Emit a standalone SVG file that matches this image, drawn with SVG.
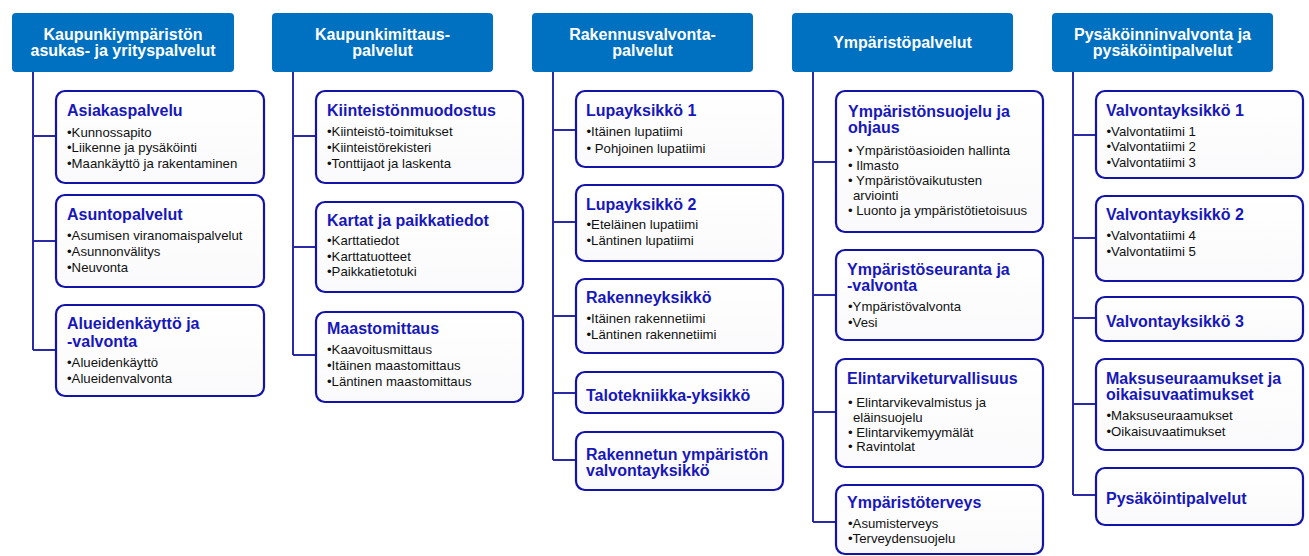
<svg xmlns="http://www.w3.org/2000/svg" width="1309" height="556" viewBox="0 0 1309 556">
<defs>
<linearGradient id="bf" x1="0" y1="0" x2="0" y2="1"><stop offset="0" stop-color="#ffffff"/><stop offset="1" stop-color="#fafafc"/></linearGradient>
<style>
.hd{fill:#0070c0}
.ht{font-family:"Liberation Sans",Arial,sans-serif;font-size:16px;font-weight:bold;fill:#ffffff;text-anchor:middle}
.bx{fill:url(#bf);stroke:#1313a8;stroke-width:2.2}
.tt{font-family:"Liberation Sans",Arial,sans-serif;font-size:16px;font-weight:bold;fill:#1717bb}
.bt{font-family:"Liberation Sans",Arial,sans-serif;font-size:13.2px;fill:#111111}
.cn{fill:none;stroke:#2a2aa6;stroke-width:2}
</style>
</defs>
<rect width="1309" height="556" fill="#ffffff"/>
<g id="connectors">
<path class="cn" d="M33 72V350M33 136H56M33 241H56M33 350H56"/>
<path class="cn" d="M293 72V355M293 136H316M293 247H316M293 355H316"/>
<path class="cn" d="M553 72V460M553 130H576M553 222H576M553 316H576M553 393H576M553 460H576"/>
<path class="cn" d="M813 72V522M813 162H836M813 295H836M813 412H836M813 522H836"/>
<path class="cn" d="M1073 72V495M1073 135H1096M1073 238H1096M1073 318H1096M1073 404H1096M1073 495H1096"/>
</g>
<g id="h1"><rect class="hd" x="12" y="13" width="222" height="59" rx="4"/><text class="ht" x="123" y="39.5">Kaupunkiympäristön</text><text class="ht" x="123" y="56">asukas- ja yrityspalvelut</text></g>
<g id="h2"><rect class="hd" x="272" y="13" width="221" height="59" rx="4"/><text class="ht" x="382.5" y="39.5">Kaupunkimittaus-</text><text class="ht" x="382.5" y="56">palvelut</text></g>
<g id="h3"><rect class="hd" x="532" y="13" width="221" height="59" rx="4"/><text class="ht" x="642.5" y="39.5">Rakennusvalvonta-</text><text class="ht" x="642.5" y="56">palvelut</text></g>
<g id="h4"><rect class="hd" x="792" y="13" width="221" height="59" rx="4"/><text class="ht" x="902.5" y="48">Ympäristöpalvelut</text></g>
<g id="h5"><rect class="hd" x="1052" y="13" width="221" height="59" rx="4"/><text class="ht" x="1162.5" y="39.5">Pysäköinninvalvonta ja</text><text class="ht" x="1162.5" y="56">pysäköintipalvelut</text></g>

<g id="c1b1"><rect class="bx" x="56" y="91" width="208" height="92" rx="9"/><text class="tt" x="67" y="116">Asiakaspalvelu</text><text class="bt" x="67" y="136.5">•Kunnossapito</text><text class="bt" x="67" y="152">•Liikenne ja pysäköinti</text><text class="bt" x="67" y="167.5">•Maankäyttö  ja rakentaminen</text></g>
<g id="c1b2"><rect class="bx" x="56" y="195" width="208" height="92" rx="9"/><text class="tt" x="67" y="220">Asuntopalvelut</text><text class="bt" x="67" y="240">•Asumisen viranomaispalvelut</text><text class="bt" x="67" y="256">•Asunnonvälitys</text><text class="bt" x="67" y="272">•Neuvonta</text></g>
<g id="c1b3"><rect class="bx" x="56" y="305" width="208" height="91" rx="9"/><text class="tt" x="67" y="329">Alueidenkäyttö ja</text><text class="tt" x="67" y="346.5">-valvonta</text><text class="bt" x="67" y="366.5">•Alueidenkäyttö</text><text class="bt" x="67" y="382.5">•Alueidenvalvonta</text></g>

<g id="c2b1"><rect class="bx" x="316" y="91" width="207" height="92" rx="9"/><text class="tt" x="327" y="116">Kiinteistönmuodostus</text><text class="bt" x="327" y="136">•Kiinteistö-toimitukset</text><text class="bt" x="327" y="152">•Kiinteistörekisteri</text><text class="bt" x="327" y="167.5">•Tonttijaot ja laskenta</text></g>
<g id="c2b2"><rect class="bx" x="316" y="202" width="207" height="90" rx="9"/><text class="tt" x="327" y="225.5">Kartat ja paikkatiedot</text><text class="bt" x="327" y="245">•Karttatiedot</text><text class="bt" x="327" y="260.5">•Karttatuotteet</text><text class="bt" x="327" y="276">•Paikkatietotuki</text></g>
<g id="c2b3"><rect class="bx" x="316" y="312" width="207" height="90" rx="9"/><text class="tt" x="327" y="334">Maastomittaus</text><text class="bt" x="327" y="353.5">•Kaavoitusmittaus</text><text class="bt" x="327" y="370">•Itäinen maastomittaus</text><text class="bt" x="327" y="386">•Läntinen maastomittaus</text></g>

<g id="c3b1"><rect class="bx" x="576" y="91" width="207" height="76" rx="9"/><text class="tt" x="586" y="116">Lupayksikkö 1</text><text class="bt" x="586.5" y="136">•Itäinen lupatiimi</text><text class="bt" x="586.5" y="152.5">• Pohjoinen lupatiimi</text></g>
<g id="c3b2"><rect class="bx" x="576" y="185" width="207" height="76" rx="9"/><text class="tt" x="586" y="209.5">Lupayksikkö 2</text><text class="bt" x="586.5" y="229">•Eteläinen lupatiimi</text><text class="bt" x="586.5" y="244.5">•Läntinen lupatiimi</text></g>
<g id="c3b3"><rect class="bx" x="576" y="279" width="207" height="74" rx="9"/><text class="tt" x="586" y="302.5">Rakenneyksikkö</text><text class="bt" x="586.5" y="322.5">•Itäinen rakennetiimi</text><text class="bt" x="586.5" y="338.5">•Läntinen rakennetiimi</text></g>
<g id="c3b4"><rect class="bx" x="576" y="372" width="207" height="41" rx="9"/><text class="tt" x="586" y="400.5">Talotekniikka-yksikkö</text></g>
<g id="c3b5"><rect class="bx" x="576" y="432" width="207" height="58" rx="9"/><text class="tt" x="586" y="459.5">Rakennetun ympäristön</text><text class="tt" x="586" y="475.5">valvontayksikkö</text></g>

<g id="c4b1"><rect class="bx" x="836" y="91" width="207" height="141" rx="9"/><text class="tt" x="848" y="117">Ympäristönsuojelu ja</text><text class="tt" x="848" y="133">ohjaus</text><text class="bt" x="848" y="155">• Ympäristöasioiden hallinta</text><text class="bt" x="848" y="170">• Ilmasto</text><text class="bt" x="848" y="185">• Ympäristövaikutusten</text><text class="bt" x="853" y="200">arviointi</text><text class="bt" x="848" y="215">• Luonto ja ympäristötietoisuus</text></g>
<g id="c4b2"><rect class="bx" x="836" y="250" width="207" height="90" rx="9"/><text class="tt" x="847" y="274.5">Ympäristöseuranta ja</text><text class="tt" x="847" y="291">-valvonta</text><text class="bt" x="848" y="311">•Ympäristövalvonta</text><text class="bt" x="848" y="327">•Vesi</text></g>
<g id="c4b3"><rect class="bx" x="836" y="359" width="207" height="108" rx="9"/><text class="tt" x="847" y="383.5">Elintarviketurvallisuus</text><text class="bt" x="848" y="406.5">• Elintarvikevalmistus ja</text><text class="bt" x="853" y="421.5">eläinsuojelu</text><text class="bt" x="848" y="436.5">• Elintarvikemyymälät</text><text class="bt" x="848" y="451">• Ravintolat</text></g>
<g id="c4b4"><rect class="bx" x="836" y="485" width="207" height="69" rx="9"/><text class="tt" x="847" y="508">Ympäristöterveys</text><text class="bt" x="848" y="527.5">•Asumisterveys</text><text class="bt" x="848" y="543">•Terveydensuojelu</text></g>

<g id="c5b1"><rect class="bx" x="1096" y="91" width="207" height="87" rx="9"/><text class="tt" x="1106" y="115.5">Valvontayksikkö 1</text><text class="bt" x="1106.5" y="135.5">•Valvontatiimi 1</text><text class="bt" x="1106.5" y="151">•Valvontatiimi 2</text><text class="bt" x="1106.5" y="167">•Valvontatiimi 3</text></g>
<g id="c5b2"><rect class="bx" x="1096" y="196" width="207" height="85" rx="9"/><text class="tt" x="1106" y="219.5">Valvontayksikkö 2</text><text class="bt" x="1106.5" y="240">•Valvontatiimi 4</text><text class="bt" x="1106.5" y="256">•Valvontatiimi 5</text></g>
<g id="c5b3"><rect class="bx" x="1096" y="297" width="207" height="44" rx="9"/><text class="tt" x="1106" y="327">Valvontayksikkö 3</text></g>
<g id="c5b4"><rect class="bx" x="1096" y="359" width="207" height="91" rx="9"/><text class="tt" x="1106" y="383.5">Maksuseuraamukset ja</text><text class="tt" x="1106" y="399.5">oikaisuvaatimukset</text><text class="bt" x="1106.5" y="419.5">•Maksuseuraamukset</text><text class="bt" x="1106.5" y="436">•Oikaisuvaatimukset</text></g>
<g id="c5b5"><rect class="bx" x="1096" y="468" width="207" height="57" rx="9"/><text class="tt" x="1106" y="503.5">Pysäköintipalvelut</text></g>
</svg>
